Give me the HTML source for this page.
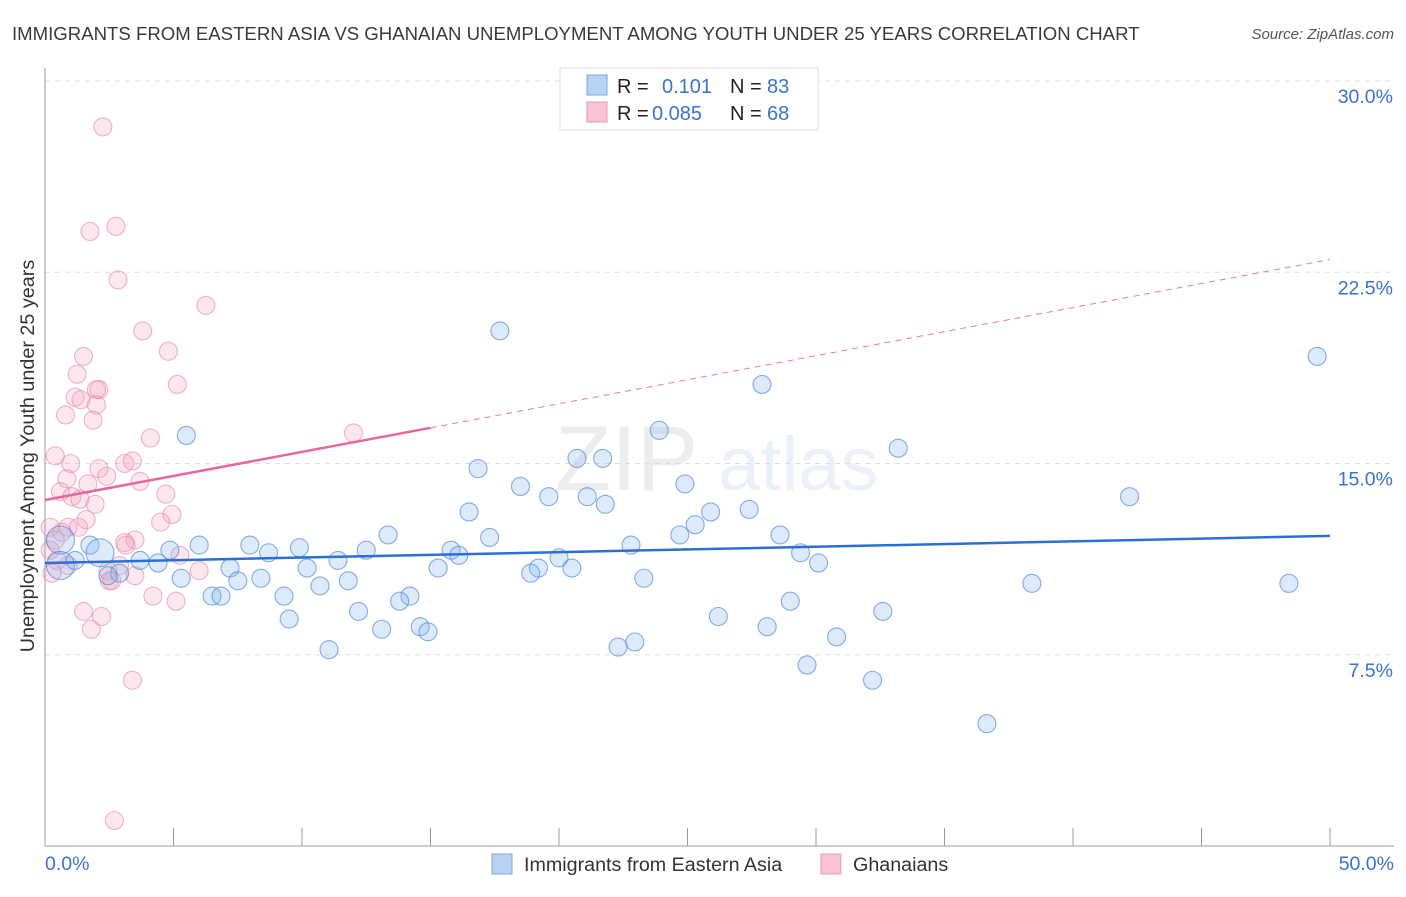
<!DOCTYPE html>
<html><head><meta charset="utf-8"><style>
body{margin:0;background:#fff;font-family:"Liberation Sans",sans-serif;}
svg text{font-family:"Liberation Sans",sans-serif;}
</style></head><body>
<svg id="chart" width="1406" height="892" viewBox="0 0 1406 892" xmlns="http://www.w3.org/2000/svg">
<text x="12" y="40" font-size="18.6" fill="#3a3a3a">IMMIGRANTS FROM EASTERN ASIA VS GHANAIAN UNEMPLOYMENT AMONG YOUTH UNDER 25 YEARS CORRELATION CHART</text>
<text x="1394" y="39" font-size="15" fill="#555" font-style="italic" text-anchor="end">Source: ZipAtlas.com</text>
<g opacity="0.1">
<text x="555" y="490" font-size="92" font-family="Liberation Serif" fill="#555">ZIP</text>
<text x="718" y="490" font-size="76" fill="#4a7fd0">atlas</text>
</g>
<g id="grid"></g>
<g id="axes"></g>
<g id="trend"></g>
<g id="pts"></g>
<text transform="translate(34,456) rotate(-90)" font-size="19.8" fill="#333" text-anchor="middle">Unemployment Among Youth under 25 years</text>
<g>
<rect x="560" y="68" width="258" height="62" fill="#fff" stroke="#ddd"/>
<rect x="587" y="75" width="20" height="20" fill="#b8d2f4" stroke="#7aa6e4"/>
<rect x="587" y="102" width="20" height="20" fill="#f9c4d4" stroke="#ec9ab3"/>
<text x="617" y="93" font-size="20" fill="#222">R = </text><text x="662" y="93" font-size="20" fill="#3b72d0">0.101</text>
<text x="730" y="93" font-size="20" fill="#222">N = </text><text x="767" y="93" font-size="20" fill="#3b72d0">83</text>
<text x="617" y="120" font-size="20" fill="#222">R = </text><text x="652" y="120" font-size="20" fill="#3b72d0">0.085</text>
<text x="730" y="120" font-size="20" fill="#222">N = </text><text x="767" y="120" font-size="20" fill="#3b72d0">68</text>
</g>
<g>
<rect x="492" y="854" width="20" height="20" fill="#b8d2f4" stroke="#7aa6e4"/>
<text x="524" y="871" font-size="19.7" fill="#333">Immigrants from Eastern Asia</text>
<rect x="821" y="854" width="20" height="20" fill="#f9c4d4" stroke="#ec9ab3"/>
<text x="853" y="871" font-size="19.7" fill="#333">Ghanaians</text>
</g>
</svg>
<script>
const yTicks=[7.5,15,22.5,30];
const yTickLabels=["7.5%","15.0%","22.5%","30.0%"];
const xTicks=[0,5,10,15,20,25,30,35,40,45,50];
const xTickLabels=["0.0%","50.0%"];
const blueX=[17.7,49.5,27.9,5.5,23.9,33.2,20.7,21.7,16.85,18.5,24.9,19.6,21.1,42.2,21.8,16.5,25.9,27.4,25.3,13.35,17.3,24.7,28.6,22.8,0.6,1.75,6.0,7.97,9.9,15.8,29.4,2.14,4.86,8.7,12.5,16.1,20.0,0.6,1.17,3.7,4.4,11.4,30.1,7.2,10.2,15.3,19.2,20.5,2.9,2.45,18.9,5.3,7.5,8.4,11.8,23.3,38.4,48.4,10.7,6.5,6.85,9.3,14.2,13.8,29.0,12.2,32.6,26.2,9.5,14.6,13.1,14.9,28.1,30.8,22.95,22.3,11.05,29.65,32.2,36.65];
const blueY=[20.2,19.2,18.1,16.1,16.3,15.6,15.2,15.2,14.8,14.1,14.2,13.7,13.7,13.7,13.4,13.1,13.1,13.2,12.6,12.2,12.1,12.2,12.2,11.8,12.0,11.8,11.8,11.8,11.7,11.6,11.5,11.5,11.6,11.5,11.6,11.4,11.3,11.0,11.2,11.2,11.1,11.2,11.1,10.9,10.9,10.9,10.9,10.9,10.7,10.6,10.7,10.5,10.4,10.5,10.4,10.5,10.3,10.3,10.2,9.8,9.8,9.8,9.8,9.6,9.6,9.2,9.2,9.0,8.9,8.6,8.5,8.4,8.6,8.2,8.0,7.8,7.7,7.1,6.5,4.8];
const blueBig=[0.6,2.14];
const pinkX=[2.25,1.75,2.76,2.84,6.26,3.8,4.8,1.5,1.25,5.15,2.1,2.0,1.17,1.4,2.0,0.8,1.87,12.0,4.1,0.4,1.0,3.1,3.4,2.1,2.4,0.85,1.67,0.6,3.7,4.7,1.05,1.36,1.95,4.94,4.5,1.6,0.9,1.3,0.2,0.66,0.4,3.5,3.1,3.15,0.2,5.25,0.47,0.9,2.9,0.27,6.0,2.45,3.5,2.5,2.6,4.2,5.1,1.5,2.2,1.8,3.4,2.7];
const pinkY=[28.2,24.1,24.3,22.2,21.2,20.2,19.4,19.2,18.5,18.1,17.9,17.9,17.6,17.5,17.3,16.9,16.7,16.2,16.0,15.3,15.0,15.0,15.1,14.8,14.5,14.4,14.2,13.9,14.3,13.8,13.7,13.6,13.4,13.0,12.7,12.8,12.5,12.5,12.5,12.3,12.0,12.0,11.9,11.8,11.6,11.4,11.2,11.0,11.0,10.7,10.8,10.8,10.6,10.4,10.4,9.8,9.6,9.2,9.0,8.5,6.5,1.0];
const blueTrend=[11.1,12.16];
const pinkTrend=[13.57,23.0];
const pinkSolidEnd=15;
const X=v=>45+v*25.7, Y=v=>846-v*25.5;
const NS="http://www.w3.org/2000/svg";
function mk(parent,tag,attrs){const e=document.createElementNS(NS,tag);for(const k in attrs)e.setAttribute(k,attrs[k]);document.getElementById(parent).appendChild(e);return e;}
yTicks.forEach((t,i)=>{
 const l=mk('grid','line',{x1:45,x2:1394,y1:Y(t),y2:Y(t),stroke:'#ddd','stroke-dasharray':'5,5'});
 
 
 const tx=mk('grid','text',{x:1393,y:Y(t)+22,'font-size':19.5,fill:'#3b72d0','text-anchor':'end'});
 tx.textContent=yTickLabels[i];
 
 
});
const ax=mk('axes','line',{x1:45,x2:45,y1:68,y2:846,stroke:'#999'});


const bx=mk('axes','line',{x1:45,x2:1394,y1:846,y2:846,stroke:'#999'});


xTicks.forEach(t=>{
 const l=mk('axes','line',{x1:X(t),x2:X(t),y1:828,y2:846,stroke:'#999'});
 
 
});
const xl0=mk('axes','text',{x:45,y:870,'font-size':19.5,fill:'#3b72d0'});xl0.textContent=xTickLabels[0];


const xl1=mk('axes','text',{x:1394,y:870,'font-size':19.5,fill:'#3b72d0','text-anchor':'end'});xl1.textContent=xTickLabels[1];


function drawPts(xs,ys,fill,stroke,big,name){
 xs.forEach((x,i)=>{
  const r=(big&&big.includes(x)&&i<40)?14:9;
  const c=mk('pts','circle',{cx:X(x),cy:Y(ys[i]),r:r,fill:fill,stroke:stroke,'stroke-width':1.1});
  
  
 });
}
drawPts(pinkX,pinkY,'rgba(244,160,188,0.25)','rgba(230,130,165,0.6)',null,'ghanaians-point');
drawPts(blueX,blueY,'rgba(130,178,238,0.28)','rgba(70,130,215,0.65)',blueBig,'eastern-asia-point');
const pv=x=>pinkTrend[0]+(pinkTrend[1]-pinkTrend[0])*x/50;
const pd=mk('trend','line',{x1:X(pinkSolidEnd),y1:Y(pv(pinkSolidEnd)),x2:X(50),y2:Y(pinkTrend[1]),stroke:'#e8799e','stroke-width':1,'stroke-dasharray':'6,5'});


const ps=mk('trend','line',{x1:X(0),y1:Y(pinkTrend[0]),x2:X(pinkSolidEnd),y2:Y(pv(pinkSolidEnd)),stroke:'#e8669a','stroke-width':2.5});


const bl=mk('trend','line',{x1:X(0),y1:Y(blueTrend[0]),x2:X(50),y2:Y(blueTrend[1]),stroke:'#2a6fd4','stroke-width':2.5});


document.getElementById('chart').appendChild(document.getElementById('trend'));
</script>
</body></html>
